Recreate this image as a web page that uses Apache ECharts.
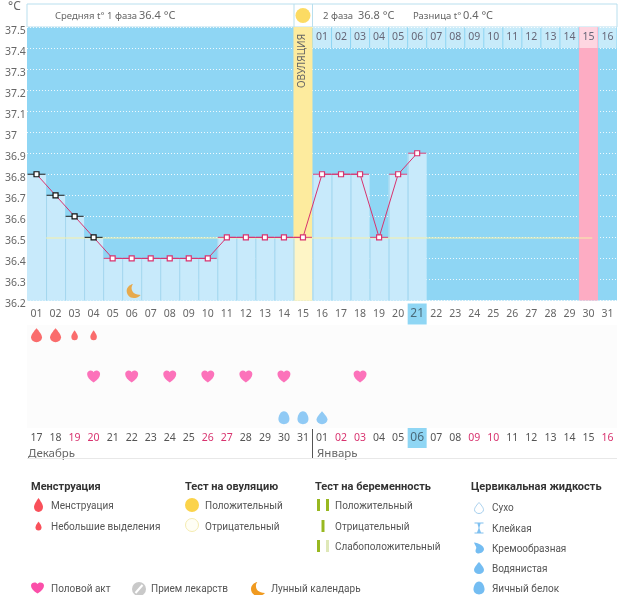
<!DOCTYPE html>
<html><head><meta charset="utf-8">
<style>html,body{margin:0;padding:0;background:#fff}#c{width:626px;height:595px}</style>
<script src="https://cdn.jsdelivr.net/npm/echarts@6/dist/echarts.min.js"></script>
</head><body><div id="c"></div>
<script>
const cycleDays = ['01','02','03','04','05','06','07','08','09','10','11','12','13','14','15','16','17','18','19','20','21','22','23','24','25','26','27','28','29','30','31'];
const calendarDates = ['17','18','19','20','21','22','23','24','25','26','27','28','29','30','31','01','02','03','04','05','06','07','08','09','10','11','12','13','14','15','16'];
const weekendIdx = [2,3,9,10,16,17,23,24,30];
const temps = [36.8,36.7,36.6,36.5,36.4,36.4,36.4,36.4,36.4,36.4,36.5,36.5,36.5,36.5,36.5,36.8,36.8,36.8,36.5,36.8,36.9];
const currentIdx = 20;
const ovulationIdx = 14;
const expectedIdx = 29;
const coverTemp = 36.5;
const coverRange = [1,29];
const heavyFlow = [0,1];
const lightFlow = [2,3];
const intercourse = [3,5,7,9,11,13,17];
const eggWhite = [13,14];
const watery = [15];
const moonDay = [[5,36.25]];
const rows = ['cm','r4','sex','r2','flow'];
const topDayLabels = cycleDays.map((d,i)=> i>=15 ? cycleDays[i-15] : '');

const P = {
 drop:'path://M50 0C50 0 92 48 92 72A42 40 0 0 1 8 72C8 48 50 0 50 0Z',
 heart:'path://M50 96C20 74 0 54 0 28C0 10 14 0 28 0C38 0 46 6 50 14C54 6 62 0 72 0C86 0 100 10 100 28C100 54 80 74 50 96Z',
 egg:'path://M50 0C78 0 94 35 94 60C94 86 72 100 50 100C28 100 6 86 6 60C6 35 22 0 50 0Z',
 moon:'path://M45 0C25 25 32 78 100 78C85 95 65 100 50 100C20 100 0 75 0 50C0 25 20 5 45 0Z',
 hour:'path://M5 0H95V10H65C60 35 55 40 55 50C55 60 60 65 70 90H95V100H5V90H30C40 65 45 60 45 50C45 40 40 35 35 10H5Z',
 cream:'path://M10 0C50 5 95 30 95 60C95 85 70 100 50 100C25 100 15 80 30 50C30 35 15 20 10 0Z'
};
function pick(p){return p.slice(7);}
const ink='#555';
const LF='Roboto,"Noto Sans",sans-serif';
const HF='"Noto Sans","Open Sans",sans-serif';

function bandRender(color, sepColor){
 return function(params, api){
  const i=api.value(0), v=api.value(1);
  const p=api.coord([i,v]), b=api.coord([i,36.2]), w=api.size([1,0])[0];
  const ch=[{type:'rect',shape:{x:p[0]-w/2,y:p[1],width:w,height:b[1]-p[1]},style:{fill:typeof color==='function'?color(i):color}}];
  if(sepColor && i>0) ch.push({type:'rect',shape:{x:p[0]-w/2,y:p[1],width:1,height:b[1]-p[1]},style:{fill:sepColor}});
  return {type:'group',children:ch};
 };
}
const flowSeries=(idx,size)=>({type:'scatter',xAxisIndex:1,yAxisIndex:1,symbol:P.drop,symbolSize:size,itemStyle:{color:'#f94747'},data:idx.map(i=>[i,'flow'])});

const gr=[], icons=[];
function T(x,y,text,size,opt){gr.push({type:'text',x,y:y+1,z:50,style:Object.assign({text,fill:ink,font:size+'px '+LF,verticalAlign:'middle'},opt||{})});}
function I(path,cx,cy,w,h,fill,stroke){icons.push({type:'path',shape:{pathData:pick(path),layout:'cover',x:cx-w/2,y:cy-h/2,width:w,height:h},style:{fill:fill,stroke:stroke||null,lineWidth:1}});}
function R(x,y,w,h,fill){gr.push({type:'rect',z:50,shape:{x,y,width:w,height:h},style:{fill}});}
function C(cx,cy,r,fill,stroke){gr.push({type:'circle',z:50,shape:{cx,cy,r},style:{fill,stroke:stroke||null,lineWidth:1}});}

// header
const hs=(s)=>({font:s+'px '+HF,fill:'#666'});
T(8,6,'°C',12,hs(12));
T(55,15,'Средняя t° 1 фаза',9.5,hs(9.5));
T(139,14.5,'36.4 °C',11,hs(11));
T(323,15,'2 фаза',9.5,hs(9.5));
T(358,14.5,'36.8 °C',11,hs(11));
T(413,15,'Разница t°',9.5,hs(9.5));
T(463,14.5,'0.4 °C',11,hs(11));
R(293.5,4,1,23,'#b9dfee');R(312,4,1,23,'#b9dfee');
gr.push({type:'text',x:302,y:61,rotation:Math.PI/2,z:50,style:{text:'ОВУЛЯЦИЯ',font:'10px '+HF,fill:'#666',align:'center',verticalAlign:'middle'}});
// months
T(28,452.5,'Декабрь',11.5,hs(11.5));
T(317,452.5,'Январь',11.5,hs(11.5));
R(312,429,1,29,'#555');
R(27,458,590,1,'#e8e8e8');
// legend
const tf=(s)=>({font:'bold '+s+'px '+LF,fill:'#333'});
const TS=11, IS=10;
T(31,486,'Менструация',TS,tf(TS));
I(P.drop,38.5,505,9,14,'#f9505a');T(51,505,'Менструация',IS);
I(P.drop,38.5,526,6,9,'#f9505a');T(51,526,'Небольшие выделения',IS);
T(185,486,'Тест на овуляцию',TS,tf(TS));
C(192,505,7,'#fbd34a');T(205,505,'Положительный',IS);
C(192,525,6.5,'#fffef5','#f5ecb0');T(205,526,'Отрицательный',IS);
T(315,486,'Тест на беременность',TS,tf(TS));
R(317,499,3,12,'#98b820');R(326,499,3,12,'#98b820');T(335,505,'Положительный',IS);
R(321.5,520,3,12,'#98b820');T(335,526,'Отрицательный',IS);
R(317,540,3,12,'#98b820');R(326,540,3,12,'#dfe8b8');T(335,546,'Слабоположительный',IS);
T(471,486,'Цервикальная жидкость',TS,tf(TS));
I(P.drop,479,508,9,11,'#fff','#a5cfee');T(492,507,'Сухо',IS);
I(P.hour,479,528,9,11,'#7fc0f0');T(492,528,'Клейкая',IS);
I(P.cream,479,548,10,11,'#74bdf2');T(492,548,'Кремообразная',IS);
I(P.drop,479,568,10,12,'#74bdf2');T(492,568,'Водянистая',IS);
I(P.egg,479,588,11,13,'#74bdf2');T(492,588,'Яичный белок',IS);
I(P.heart,37.5,588,13,11,'#fb4fa9');T(51,588,'Половой акт',IS);
C(139,589,7,'#c9c9c9');
gr.push({type:'line',z:51,shape:{x1:135.5,y1:593,x2:142.5,y2:585},style:{stroke:'#fff',lineWidth:2}});
T(151,588,'Прием лекарств',IS);
I(P.moon,258,589,14,14,'#f09a20');T(271,588,'Лунный календарь',IS);

const option={
 animation:false,
 backgroundColor:'#fff',
 graphic:gr,
 grid:[
  {left:27,top:27,width:590,height:273.5,show:true,backgroundColor:'#8fd6f4',borderWidth:0},
  {left:27,top:325,width:590,height:103,show:true,backgroundColor:'#fcfcfc',borderWidth:0},
  {left:27,top:4,width:590,height:23,show:true,backgroundColor:'#fff',borderColor:'#b9dfee',borderWidth:1}
 ],
 xAxis:[
  {type:'category',gridIndex:0,data:cycleDays,position:'bottom',axisLine:{show:false},axisTick:{show:false},
   axisLabel:{interval:0,margin:3,color:'#666',fontFamily:HF,fontSize:10,
    formatter:(v,i)=> i===currentIdx ? '{h|'+v+'}' : '{n|'+v+'}',
    rich:{n:{width:19,height:21,align:'center',color:'#666',fontFamily:HF,fontSize:10.5},
          h:{width:19,height:21,align:'center',backgroundColor:'#8fd6f4',color:'#4a6a7a',fontFamily:HF,fontSize:12}}}},
  {type:'category',gridIndex:1,data:calendarDates,position:'bottom',axisLine:{show:false},axisTick:{show:false},
   axisLabel:{interval:0,margin:0,fontFamily:HF,fontSize:10,
    formatter:(v,i)=> i===currentIdx ? '{h|'+v+'}' : (weekendIdx.includes(i)?'{r|'+v+'}':'{n|'+v+'}'),
    rich:{n:{width:19,height:20,align:'center',color:'#555',fontFamily:HF,fontSize:10.5},
          r:{width:19,height:20,align:'center',color:'#d8336f',fontFamily:HF,fontSize:10.5},
          h:{width:19,height:20,align:'center',backgroundColor:'#8fd6f4',color:'#4a6a7a',fontFamily:HF,fontSize:12}}}},
  {type:'category',gridIndex:2,data:cycleDays,show:false},
  {type:'category',gridIndex:0,data:topDayLabels,position:'top',axisLine:{show:false},axisTick:{show:false},z:20,
   axisLabel:{inside:true,interval:0,margin:0,
    formatter:(v)=> v? '{n|'+v+'}':'',
    rich:{n:{width:18,height:21,align:'center',backgroundColor:'rgba(255,255,255,0.5)',color:'#667',fontFamily:HF,fontSize:10.5}}}}
 ],
 yAxis:[
  {type:'value',gridIndex:0,min:36.2,max:37.5,interval:0.1,axisLine:{show:false},axisTick:{show:false},
   axisLabel:{color:'#666',fontFamily:HF,fontSize:10.5,align:'left',margin:22,padding:[0,0,0,0],verticalAlign:'top',lineHeight:8},
   splitLine:{show:true,lineStyle:{color:'rgba(255,255,255,0.85)',type:[1,2],width:1}}},
  {type:'category',gridIndex:1,data:rows,show:false},
  {type:'value',gridIndex:2,show:false,min:0,max:2}
 ],
 series:[
  {type:'custom',xAxisIndex:0,yAxisIndex:0,z:2,encode:{x:0,y:1},
   data:[[ovulationIdx,37.5]],renderItem:bandRender('#fdeb9e')},
  {type:'custom',xAxisIndex:0,yAxisIndex:0,z:2,encode:{x:0,y:1},
   data:[[expectedIdx,37.5]],renderItem:bandRender('#fdacc3')},
  {type:'custom',xAxisIndex:0,yAxisIndex:0,z:3,encode:{x:0,y:1},
   data:temps.map((t,i)=>[i,t]),
   renderItem:bandRender(i=> i===ovulationIdx?'#fef5c6':'#c8eafb','#a4d6ee')},
  {type:'custom',xAxisIndex:0,yAxisIndex:0,z:4,encode:{x:[0,1],y:2},
   data:[[coverRange[0],coverRange[1],coverTemp]],
   renderItem:function(params,api){
     const a=api.coord([api.value(0),api.value(2)]),b=api.coord([api.value(1),api.value(2)]),w=api.size([1,0])[0];
     return {type:'rect',shape:{x:a[0]-w/2,y:a[1],width:b[0]-a[0]+w*0.7,height:1},style:{fill:'#f6f0a8'}};
   }},
  {type:'scatter',xAxisIndex:0,yAxisIndex:0,z:5,symbol:'rect',symbolSize:[18,1.2],silent:true,
   data:temps.map((t,i)=>({value:[i,t],itemStyle:{color:i<4?'#111':'#dc3a72'}}))},
  {type:'line',xAxisIndex:0,yAxisIndex:0,z:6,symbol:'rect',symbolSize:5,showSymbol:true,
   lineStyle:{color:'#d8336f',width:1},
   data:temps.map((t,i)=>({value:[i,t],itemStyle:{color:'#fff',borderColor:i<4?'#111':'#d8336f',borderWidth:1.2}}))},
  {type:'scatter',xAxisIndex:0,yAxisIndex:0,z:7,symbol:P.moon,symbolSize:[14,14],symbolOffset:[2,1],itemStyle:{color:'#ef9a22'},data:moonDay},
  flowSeries(heavyFlow,[11,14]),
  flowSeries(lightFlow,[6.5,10]),
  {type:'scatter',xAxisIndex:1,yAxisIndex:1,symbol:P.heart,symbolSize:[13,12],itemStyle:{color:'#fb4fa9'},data:intercourse.map(i=>[i,'sex'])},
  {type:'scatter',xAxisIndex:1,yAxisIndex:1,symbol:P.egg,symbolSize:[11,13],itemStyle:{color:'#74bdf2'},data:eggWhite.map(i=>[i,'cm'])},
  {type:'scatter',xAxisIndex:1,yAxisIndex:1,symbol:P.drop,symbolSize:[11,13],itemStyle:{color:'#74bdf2'},data:watery.map(i=>[i,'cm'])},
  {type:'scatter',xAxisIndex:2,yAxisIndex:2,symbol:'circle',symbolSize:15,itemStyle:{color:'#fbd23c'},data:[[ovulationIdx,1]]},
  {type:'custom',coordinateSystem:'none',z:50,data:[0],renderItem:()=>({type:'group',children:icons})}
 ]
};
echarts.init(document.getElementById('c'),null,{renderer:'canvas'}).setOption(option);
</script>
</body></html>
